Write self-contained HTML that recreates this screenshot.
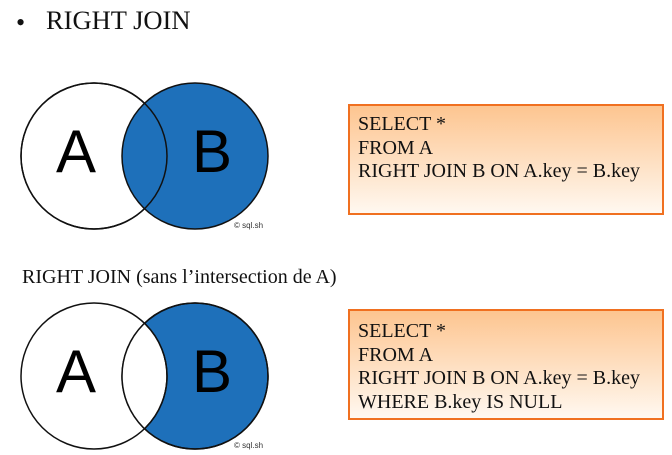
<!DOCTYPE html>
<html><head><meta charset="utf-8"><style>
body{margin:0;width:672px;height:455px;background:#fff;overflow:hidden;position:relative;font-family:"Liberation Serif",serif;color:#111}
.box{position:absolute;left:348px;width:316px;border:2px solid #f07020;background:linear-gradient(#fdc590,#fff8f0);box-sizing:border-box;font-size:20px;line-height:23.5px;padding:7px 0 0 8px;letter-spacing:0}
</style></head><body>
<div style="position:absolute;left:16px;top:8px;font-size:26px">•</div>
<div style="position:absolute;left:46px;top:5px;font-size:26.5px;letter-spacing:0">RIGHT JOIN</div>
<div style="position:absolute;left:22px;top:266px;font-size:20px;letter-spacing:0">RIGHT JOIN (sans l’intersection de A)</div>
<svg width="672" height="455" style="position:absolute;left:0;top:0" font-family="Liberation Sans, sans-serif">
<defs><clipPath id="cb"><circle cx="195" cy="376" r="73"/></clipPath></defs>
<g stroke="#111" stroke-width="1.5">
<circle cx="94" cy="156" r="73" fill="#fff"/>
<circle cx="195" cy="156" r="73" fill="#1e70ba"/>
<circle cx="94" cy="156" r="73" fill="none"/>
<circle cx="195" cy="376" r="73" fill="#1e70ba"/>
<circle cx="94" cy="376" r="73" fill="#fff" clip-path="url(#cb)"/>
<circle cx="94" cy="376" r="73" fill="none"/>
<circle cx="195" cy="376" r="73" fill="none"/>
</g>
<g font-size="60" fill="#000" text-anchor="middle">
<text x="76" y="172">A</text><text x="212" y="172">B</text>
<text x="76" y="392">A</text><text x="212" y="392">B</text>
</g>
<g font-size="8" fill="#333"><text x="234" y="228">© sql.sh</text><text x="234" y="448">© sql.sh</text></g>
</svg>
<div class="box" style="top:104px;height:111px">SELECT *<br>FROM A<br>RIGHT JOIN B ON A.key = B.key</div>
<div class="box" style="top:309px;height:111px;padding-top:9px">SELECT *<br>FROM A<br>RIGHT JOIN B ON A.key = B.key<br>WHERE B.key IS NULL</div>
</body></html>
